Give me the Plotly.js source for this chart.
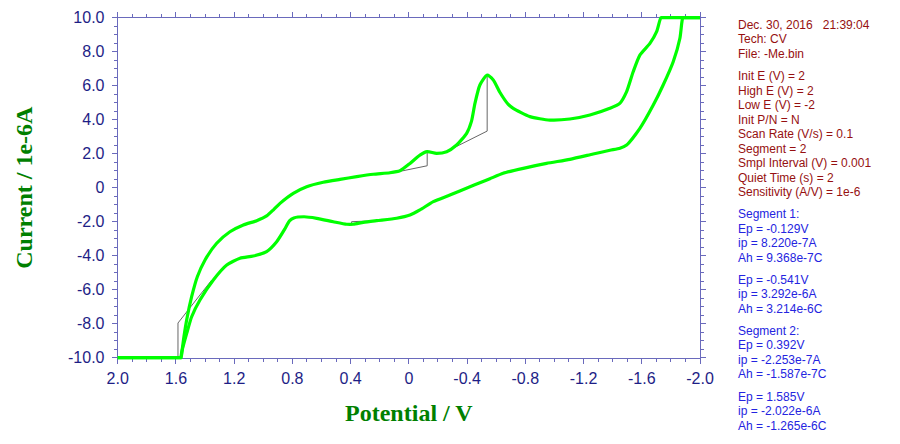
<!DOCTYPE html>
<html><head><meta charset="utf-8">
<script src="https://cdn.plot.ly/plotly-3.0.1.min.js"></script>
<style>html,body{margin:0;padding:0;background:#fff}#chart{width:900px;height:444px}</style>
</head><body><div id="chart"></div>
<script>
// ---- data ----
const seg1Potential = [2.0, 1.8, 1.6, 1.572, 1.565, 1.555, 1.545, 1.522, 1.492, 1.453, 1.40, 1.32, 1.229, 1.137, 1.045, 0.977, 0.93, 0.885, 0.794, 0.702, 0.588, 0.473, 0.358, 0.244, 0.13, 0.061, -0.008, -0.076, -0.126, -0.19, -0.26, -0.328, -0.397, -0.43, -0.454, -0.488, -0.538, -0.58, -0.626, -0.683, -0.717, -0.832, -0.969, -1.106, -1.244, -1.381, -1.449, -1.496, -1.541, -1.587, -1.656, -1.702, -1.731, -1.738, -1.8, -1.9, -2.0];
const seg1Current   = [-10, -10, -10, -10, -10, -9.4, -8.76, -7.59, -6.41, -5.24, -4.25, -3.27, -2.59, -2.19, -1.94, -1.66, -1.3, -0.92, -0.33, 0.06, 0.32, 0.49, 0.65, 0.79, 0.88, 1.0, 1.43, 1.92, 2.12, 2.02, 2.12, 2.51, 3.2, 3.9, 4.96, 6.04, 6.63, 6.34, 5.6, 4.9, 4.67, 4.18, 3.98, 4.04, 4.28, 4.67, 4.96, 5.65, 6.82, 7.8, 8.49, 9.18, 10.0, 10.0, 10.0, 10.0, 10.0];
const seg2Potential = [-2.0, -1.95, -1.89, -1.882, -1.875, -1.862, -1.816, -1.747, -1.679, -1.587, -1.496, -1.45, -1.381, -1.266, -1.106, -0.946, -0.786, -0.648, -0.557, -0.488, -0.42, -0.282, -0.168, -0.076, -0.008, 0.084, 0.221, 0.313, 0.382, 0.427, 0.519, 0.633, 0.72, 0.79, 0.82, 0.85, 0.908, 0.977, 1.069, 1.16, 1.251, 1.343, 1.435, 1.492, 1.526, 1.56, 1.567, 1.575, 1.6, 1.8, 2.0];
const seg2Current   = [10, 10, 10, 10, 9.7, 8.79, 7.41, 6.04, 4.86, 3.49, 2.51, 2.32, 2.2, 1.98, 1.67, 1.43, 1.14, 0.85, 0.53, 0.29, 0.06, -0.43, -0.82, -1.31, -1.61, -1.80, -1.94, -2.04, -2.15, -2.15, -2.0, -1.80, -1.71, -1.78, -1.95, -2.4, -3.18, -3.76, -4.02, -4.15, -4.55, -5.43, -6.61, -7.59, -8.57, -9.65, -10.0, -10.0, -10.0, -10.0, -10.0];
// peak baselines (segments separated by null)
const baselinePotential = [0.107, -0.126, -0.126, null, -0.305, -0.538, -0.538, null, 0.22, 0.393, 0.393, null, 1.354, 1.586, 1.586];
const baselineCurrent   = [0.88, 1.29, 2.12, null, 2.33, 3.33, 6.63, null, -1.94, -2.0, -2.21, null, -5.43, -7.96, -9.98];

const xTickVals = [2, 1.6, 1.2, 0.8, 0.4, 0, -0.4, -0.8, -1.2, -1.6, -2];
const xTickText = ['2.0', '1.6', '1.2', '0.8', '0.4', '0', '-0.4', '-0.8', '-1.2', '-1.6', '-2.0'];
const yTickVals = [-10, -8, -6, -4, -2, 0, 2, 4, 6, 8, 10];
const yTickText = ['-10.0', '-8.0', '-6.0', '-4.0', '-2.0', '0', '2.0', '4.0', '6.0', '8.0', '10.0'];

const infoGroups = [
  ['Dec. 30, 2016\u00a0\u00a0\u00a021:39:04', 'Tech: CV', 'File: -Me.bin'],
  ['Init E (V) = 2', 'High E (V) = 2', 'Low E (V) = -2', 'Init P/N = N', 'Scan Rate (V/s) = 0.1', 'Segment = 2', 'Smpl Interval (V) = 0.001', 'Quiet Time (s) = 2', 'Sensitivity (A/V) = 1e-6']
];
const peakGroups = [
  ['Segment 1:', 'Ep = -0.129V', 'ip = 8.220e-7A', 'Ah = 9.368e-7C'],
  ['Ep = -0.541V', 'ip = 3.292e-6A', 'Ah = 3.214e-6C'],
  ['Segment 2:', 'Ep = 0.392V', 'ip = -2.253e-7A', 'Ah = -1.587e-7C'],
  ['Ep = 1.585V', 'ip = -2.022e-6A', 'Ah = -1.265e-6C']
];

// ---- geometry ----
const W = 900, H = 444;
const PL = 110, PR = 708, PT = 10, PB = 366;      // outer area (trace clipping)
const AL = 117.7, AR = 700, AT = 17.7, AB = 357.7; // axis frame
const xRange = [2, -2], yRange = [-10, 10];
function ext(r, a, b) { const s = (r[1] - r[0]) / (b - a); return [r[0] - a * s, r[1] + (1 - b) * s]; }
const xDom = [(AL - PL) / (PR - PL), (AR - PL) / (PR - PL)];
const yDom = [(PB - AB) / (PB - PT), (PB - AT) / (PB - PT)];
const px2paperX = p => (p - PL) / (PR - PL);
const px2paperY = p => (PB - p) / (PB - PT);

const axisColor = '#6a6abc';
const labelColor = '#1e1e86';
const tickFont = { family: 'Arial, Liberation Sans, sans-serif', size: 16, color: labelColor };
const titleFont = { family: 'Times New Roman, Liberation Serif, serif', size: 24, color: '#008000', weight: 'bold' };

// ---- text annotations ----
const annotations = [];
const textX = px2paperX(737);
const lineStep = 14.5, groupGap = 7.6;
let yPos = 25;
function addGroups(groups, color) {
  groups.forEach((g) => {
    g.forEach(line => {
      annotations.push({ xref: 'paper', yref: 'paper', x: textX, y: px2paperY(yPos), xanchor: 'left', yanchor: 'middle',
        text: line, showarrow: false, borderpad: 0, font: { family: 'Arial, Liberation Sans, sans-serif', size: 12, color: color } });
      yPos += lineStep;
    });
    yPos += groupGap;
  });
}
addGroups(infoGroups, '#961010');
addGroups(peakGroups, '#2424e0');

const traces = [
  { x: baselinePotential, y: baselineCurrent, xaxis: 'x', yaxis: 'y', mode: 'lines', connectgaps: false,
    line: { color: '#666666', width: 1 }, hoverinfo: 'skip' },
  { x: seg1Potential, y: seg1Current, xaxis: 'x2', yaxis: 'y2', mode: 'lines',
    line: { color: '#00ff00', width: 3.2, shape: 'spline', smoothing: 0.6 } },
  { x: seg2Potential, y: seg2Current, xaxis: 'x2', yaxis: 'y2', mode: 'lines',
    line: { color: '#00ff00', width: 3.2, shape: 'spline', smoothing: 0.6 } }
];

const layout = {
  width: W, height: H, showlegend: false,
  paper_bgcolor: '#ffffff', plot_bgcolor: 'rgba(0,0,0,0)',
  margin: { l: PL, r: W - PR, t: PT, b: H - PB, pad: 0 },
  xaxis: { domain: xDom, range: xRange, anchor: 'y', tickmode: 'array', tickvals: xTickVals, ticktext: xTickText,
    ticks: 'outside', ticklen: 5, tickwidth: 1, tickcolor: axisColor, showline: true, linecolor: axisColor, linewidth: 1,
    mirror: 'allticks', showgrid: false, zeroline: false, tickfont: tickFont, ticklabelstandoff: 1,
    minor: { dtick: 0.1, tick0: 0, ticks: 'outside', ticklen: 3, tickwidth: 1, tickcolor: axisColor, showgrid: false },
    title: { text: 'Potential / V', font: titleFont, standoff: 18 }, automargin: false },
  yaxis: { domain: yDom, range: yRange, anchor: 'x', tickmode: 'array', tickvals: yTickVals, ticktext: yTickText,
    ticks: 'outside', ticklen: 5, tickwidth: 1, tickcolor: axisColor, showline: true, linecolor: axisColor, linewidth: 1,
    mirror: 'allticks', showgrid: false, zeroline: false, tickfont: tickFont, ticklabelstandoff: 4,
    minor: { dtick: 0.5, tick0: 0, ticks: 'outside', ticklen: 3, tickwidth: 1, tickcolor: axisColor, showgrid: false },
    title: { text: 'Current / 1e-6A', font: titleFont, standoff: 28 }, automargin: false },
  xaxis2: { domain: [0, 1], range: ext(xRange, xDom[0], xDom[1]), anchor: 'y2', visible: false },
  yaxis2: { domain: [0, 1], range: ext(yRange, yDom[0], yDom[1]), anchor: 'x2', visible: false },
  annotations: annotations
};

Plotly.newPlot('chart', traces, layout, { staticPlot: true, displayModeBar: false });
</script>
</body></html>
